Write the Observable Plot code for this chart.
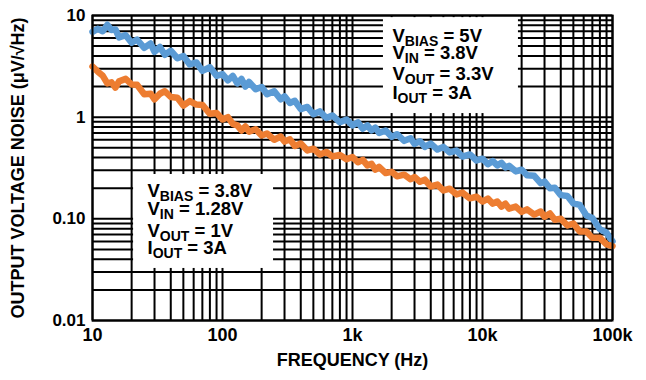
<!DOCTYPE html>
<html>
<head>
<meta charset="utf-8">
<script src="https://cdn.jsdelivr.net/npm/d3@7"></script>
<script src="https://cdn.jsdelivr.net/npm/@observablehq/plot@0.6"></script>
<style>
  html, body { margin: 0; padding: 0; background: #fff; }
  svg { display: block; }
  svg g[aria-label^="x-axis"] text { font-size: 18px; }
</style>
</head>
<body>
<div id="chart"></div>
<script>
// ---- data ----
const freq = [10,11,12,13,14,15,16,18,20,22,25,28,30,33,36,40,45,50,56,63,70,80,90,
  100,110,120,130,140,150,160,180,200,220,250,280,300,330,360,400,450,500,560,630,700,800,900,
  1000,1100,1200,1300,1400,1500,1600,1800,2000,2200,2500,2800,3000,3300,3600,4000,4500,5000,5600,6300,7000,8000,9000,
  10000,11000,12000,13000,14000,15000,16000,18000,20000,22000,25000,28000,30000,33000,36000,40000,45000,50000,56000,63000,70000,80000,90000,
  100000];
// VBIAS = 5V, VOUT = 3.3V (blue)
const noise5V = [6.9,7.4,7.0,8.1,7.2,7.3,6.1,6.4,5.4,5.8,4.8,5.3,4.4,4.9,4.1,4.5,3.8,4.0,3.3,3.45,2.85,3.1,2.55,
  2.65,2.3,2.55,2.15,2.38,2.0,2.22,1.88,1.98,1.68,1.8,1.5,1.6,1.38,1.45,1.2,1.26,1.07,1.14,0.98,1.04,0.89,0.95,
  0.83,0.89,0.77,0.83,0.74,0.79,0.70,0.74,0.64,0.68,0.585,0.62,0.545,0.58,0.51,0.55,0.48,0.51,0.45,0.47,0.41,0.43,0.375,
  0.39,0.345,0.37,0.335,0.355,0.32,0.332,0.293,0.304,0.268,0.265,0.224,0.232,0.2,0.202,0.171,0.168,0.142,0.137,0.108,0.102,0.079,0.073,
  0.06];
// VBIAS = 3.8V, VOUT = 1V (orange)
const noise1V = [3.15,2.8,2.55,2.15,2.2,1.95,2.25,2.38,2.1,2.08,1.68,1.7,1.5,1.7,1.8,1.58,1.55,1.3,1.44,1.33,1.32,1.08,1.1,
  0.95,1.0,0.86,0.83,0.74,0.81,0.72,0.76,0.66,0.69,0.6,0.645,0.575,0.605,0.52,0.55,0.47,0.49,0.43,0.455,0.41,0.425,0.385,
  0.405,0.36,0.38,0.335,0.347,0.305,0.325,0.282,0.29,0.262,0.272,0.245,0.258,0.232,0.243,0.208,0.217,0.19,0.198,0.174,0.181,0.159,0.165,
  0.148,0.158,0.141,0.148,0.132,0.141,0.126,0.132,0.117,0.124,0.11,0.118,0.105,0.113,0.098,0.1,0.086,0.09,0.075,0.075,0.065,0.065,0.056,
  0.054];

const xTicks = [10, 100, 1000, 10000, 100000];
const xTickLabels = ["10", "100", "1k", "10k", "100k"];
const yTicks = [0.01, 0.1, 1, 10];
const yTickLabels = ["0.01", "0.10", "1", "10"];

// annotation text
const annotMain = ["V", "V", "V", "I", "V", "V", "V", "I"];
const annotSub  = ["BIAS", "IN", "OUT", "OUT", "BIAS", "IN", "OUT", "OUT"];
const annotRest = [" = 5V", " = 3.8V", " = 3.3V", " = 3A", " = 3.8V", " = 1.28V", " = 1V", " = 3A"];
const annotFreq = [2030, 2030, 2030, 2030, 26.5, 26.5, 26.5, 26.5];
const annotNoise = [5.54, 3.77, 2.343, 1.524, 0.1657, 0.1102, 0.067, 0.0456];

// annotation boxes (data units)
const boxF1 = [1730, 20.7], boxF2 = [18900, 247];
const boxN1 = [1.085, 0.0325], boxN2 = [9.53, 0.273];

// ---- build tables ----
const blue = freq.map((f, i) => ({f, v: noise5V[i]}));
const orange = freq.map((f, i) => ({f, v: noise1V[i]}));
const boxes = boxF1.map((f, i) => ({x1: f, x2: boxF2[i], y1: boxN1[i], y2: boxN2[i]}));
const annots = annotMain.map((m, i) => ({f: annotFreq[i], v: annotNoise[i], t: m}));

// grid values: 1..9 per decade
const xGrid = [];
for (let e = 1; e <= 4; e++) for (let m = 1; m <= 9; m++) xGrid.push(m * 10 ** e);
xGrid.push(100000);
const yGrid = [];
for (let e = -2; e <= 0; e++) for (let m = 1; m <= 9; m++) yGrid.push(+(m * 10 ** e).toPrecision(3));
yGrid.push(10);

const FONT = "'Liberation Sans', Arial, Helvetica, sans-serif";

const svg = Plot.plot({
  width: 646,
  height: 380,
  marginLeft: 92,
  marginRight: 34,
  marginTop: 15,
  marginBottom: 60,
  style: {fontFamily: FONT, fontSize: "17px", fontWeight: "bold", color: "#000", background: "#fff", overflow: "visible"},
  x: {type: "log", domain: [10, 100000], ticks: xTicks, tickFormat: d => xTickLabels[xTicks.indexOf(d)], tickSize: 0, tickPadding: 8, label: null},
  y: {type: "log", domain: [0.01, 10], ticks: yTicks, tickFormat: d => yTickLabels[yTicks.indexOf(d)], tickSize: 0, tickPadding: 7, label: null},
  marks: [
    Plot.ruleX(xGrid, {stroke: "#000", strokeWidth: 2}),
    Plot.ruleY(yGrid, {stroke: "#000", strokeWidth: 2}),
    Plot.rect(boxes, {x1: "x1", x2: "x2", y1: "y1", y2: "y2", fill: "#fff"}),
    Plot.line(blue, {x: "f", y: "v", stroke: "#5b9bd5", strokeWidth: 6.5}),
    Plot.line(orange, {x: "f", y: "v", stroke: "#ed7d31", strokeWidth: 6.5}),
    Plot.frame({stroke: "#000", strokeWidth: 2}),
    Plot.text(annots, {x: "f", y: "v", text: "t", textAnchor: "start", lineAnchor: "bottom", fontSize: 18.5, fontWeight: "bold", fill: "#000", ariaDescription: "annotation"}),
    Plot.text([0], {frameAnchor: "bottom", text: () => "FREQUENCY (Hz)", dy: 45, lineAnchor: "bottom", fontSize: 18, fontWeight: "bold", fill: "#000"}),
    Plot.text([0], {frameAnchor: "left", text: () => "OUTPUT VOLTAGE NOISE (μV/√Hz)", rotate: -90, textAnchor: "middle", dx: -74, fontSize: 18, fontWeight: "bold", fill: "#000"})
  ]
});

let annotTexts = svg.querySelectorAll('g[aria-description="annotation"] text');
if (!annotTexts.length) {
  const g = svg.querySelector('g[aria-label="text"]');
  annotTexts = g ? g.querySelectorAll("text") : [];
}
annotTexts.forEach(function(el, k) {
  const d = el.__data__;
  const idx = typeof d === "number" ? d : k;
  const t = d3.select(el);
  t.text(null);
  t.append("tspan").text(annotMain[idx]);
  t.append("tspan").attr("font-size", 14).attr("dy", 4).text(annotSub[idx]);
  t.append("tspan").attr("dy", -4).text(annotRest[idx]);
});

document.getElementById("chart").appendChild(svg);
</script>
</body>
</html>
